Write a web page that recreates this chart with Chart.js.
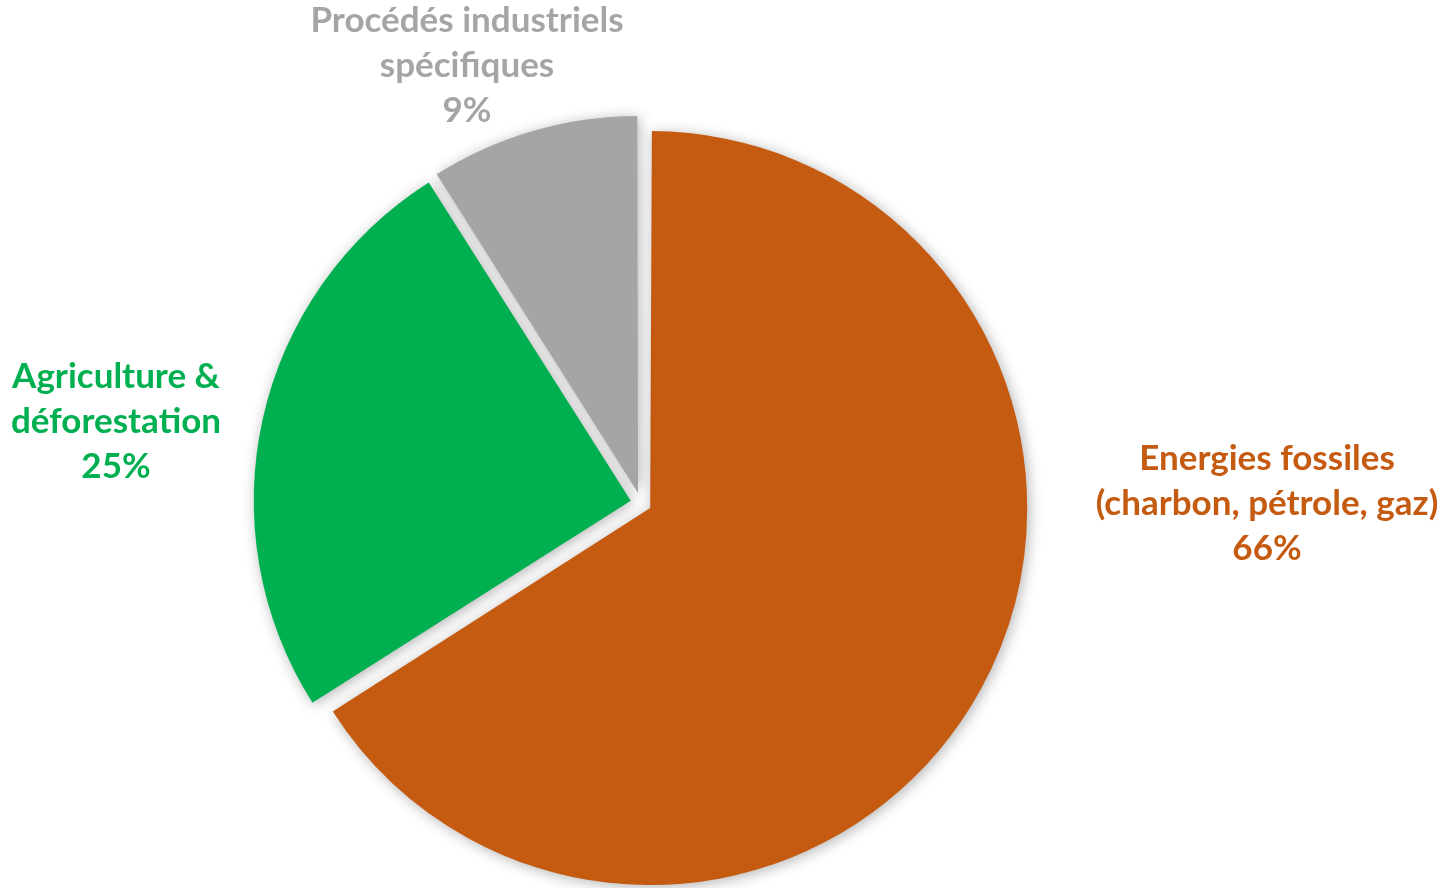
<!DOCTYPE html>
<html lang="fr">
<head>
<meta charset="utf-8">
<script src="https://cdn.jsdelivr.net/npm/chart.js@4.4.1/dist/chart.umd.min.js"></script>
<style>
  html, body { margin: 0; padding: 0; background: #fff; }
  #wrap { width: 1454px; height: 888px; }
</style>
</head>
<body>
<div id="wrap"><canvas id="pie" width="1454" height="888"></canvas></div>
<script>
// sources d'emissions (en %)
var categories = [
  ['Energies fossiles', '(charbon, pétrole, gaz)'],
  ['Agriculture &', 'déforestation'],
  ['Procédés industriels', 'spécifiques']
];
var shares = [66, 25, 9];
var colors = ['#C55A11', '#00B050', '#A5A5A5'];

// where each label block sits, relative to the pie centre (middle line baseline)
var labelOffsets = [[626, 12], [-525, -70], [-174, -426]];

var pieRadius = 377;
var explode = 10.5;   // how far each slice is pulled out

// Chart.js moves an arc by offset/4 and also grows its radius depending on
// the slice angle; put the radius back so all slices keep the same size
var equalRadiusPlugin = {
  id: 'equalRadius',
  beforeDatasetsDraw: function (chart) {
    chart.getDatasetMeta(0).data.forEach(function (arc) {
      var fix = 1 - Math.sin(Math.min(Math.PI, arc.circumference));
      arc.outerRadius = pieRadius - explode * fix;
    });
  }
};

// soft drop shadow under the slices
var shadowPlugin = {
  id: 'sliceShadow',
  beforeDatasetsDraw: function (chart) {
    var ctx = chart.ctx;
    ctx.save();
    ctx.shadowColor = 'rgba(0,0,0,0.3)';
    ctx.shadowBlur = 14;
    ctx.shadowOffsetX = 2;
    ctx.shadowOffsetY = 2;
  },
  afterDatasetsDraw: function (chart) {
    chart.ctx.restore();
  }
};

// multi-line labels with the percentage underneath
var labelPlugin = {
  id: 'sliceLabels',
  afterDraw: function (chart) {
    var ctx = chart.ctx;
    var arcs = chart.getDatasetMeta(0).data;
    var cx = (chart.chartArea.left + chart.chartArea.right) / 2;
    var cy = (chart.chartArea.top + chart.chartArea.bottom) / 2;
    var lineH = 45;
    ctx.save();
    ctx.font = 'bold 35px Lato';
    ctx.textAlign = 'center';
    ctx.textBaseline = 'alphabetic';
    for (var i = 0; i < arcs.length; i++) {
      var lines = categories[i].concat([shares[i] + '%']);
      var x = cx + labelOffsets[i][0];
      var y = cy + labelOffsets[i][1];
      ctx.fillStyle = colors[i];
      for (var j = 0; j < lines.length; j++) {
        ctx.fillText(lines[j], x, y + (j - 1) * lineH);
      }
    }
    ctx.restore();
  }
};

var chart = new Chart(document.getElementById('pie').getContext('2d'), {
  type: 'pie',
  data: {
    labels: categories.map(function (c) { return c.join(' '); }),
    datasets: [{
      data: shares,
      backgroundColor: colors,
      borderWidth: 0,
      offset: explode * 4
    }]
  },
  options: {
    responsive: false,
    animation: false,
    radius: pieRadius,
    layout: { padding: { left: 0, right: 172, top: 118, bottom: 0 } },
    plugins: {
      legend: { display: false },
      tooltip: { enabled: false }
    }
  },
  plugins: [equalRadiusPlugin, shadowPlugin, labelPlugin]
});
</script>
</body>
</html>
